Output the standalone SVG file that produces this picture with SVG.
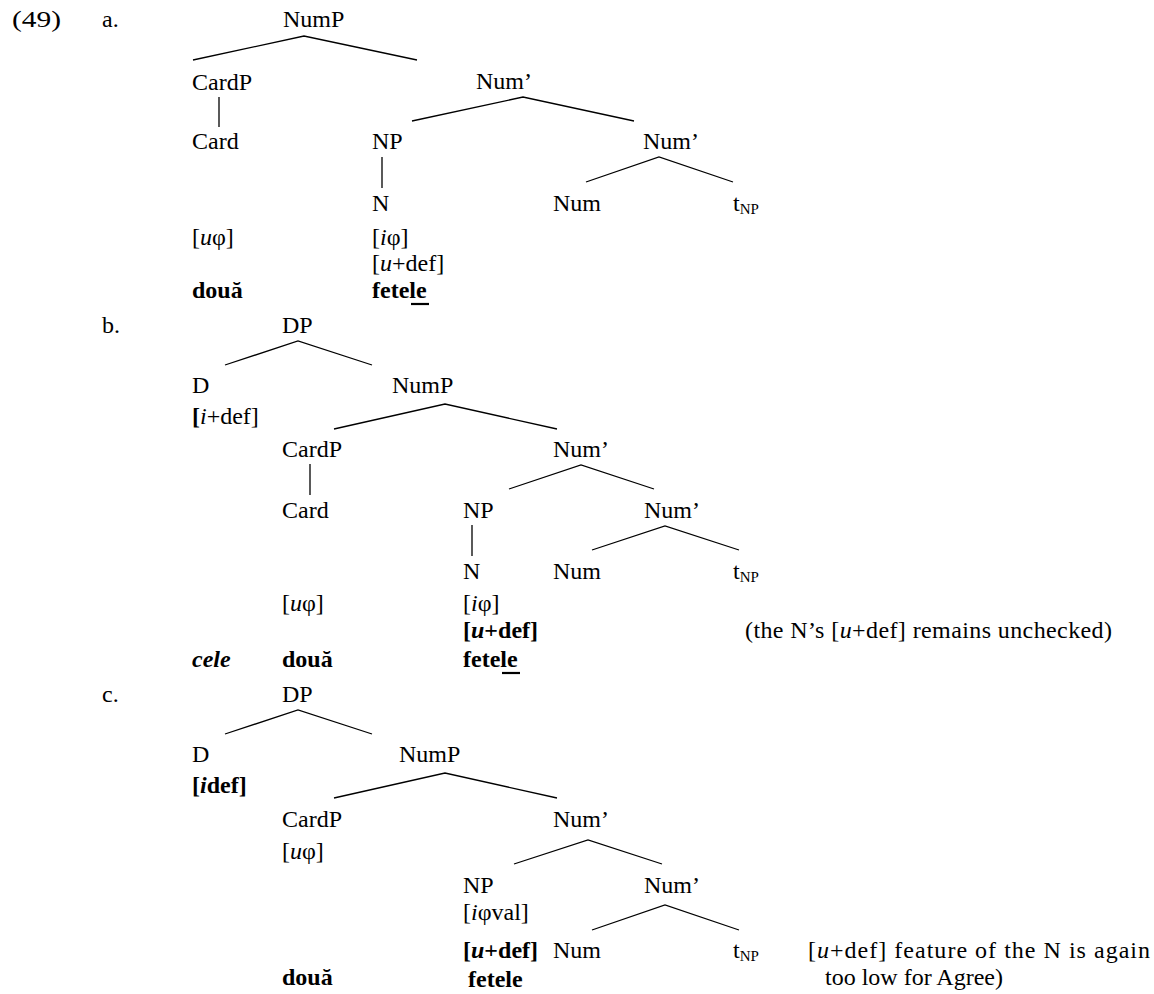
<svg xmlns="http://www.w3.org/2000/svg" width="1154" height="994" viewBox="0 0 1154 994">
<style>
text{font-family:"Liberation Serif","Times New Roman",serif;font-size:24px;fill:#000}
.b{font-weight:bold}
.i{font-style:italic}
.sub{font-size:15px}
.ln{stroke:#000;stroke-width:1.3;fill:none}
.ul{stroke:#000;stroke-width:2.2}
</style>
<rect width="1154" height="994" fill="#fff"/>
<g id="connectors">
<!-- a -->
<polyline class="ln" points="193,60 304,36 417,60"/>
<polyline class="ln" points="412,121 523,97 634,121"/>
<polyline class="ln" points="586,182 659,157 733,182"/>
<line class="ln" x1="219" y1="97" x2="219" y2="127"/>
<line class="ln" x1="382" y1="157" x2="382" y2="188"/>
<!-- b -->
<polyline class="ln" points="225,365 298,341 372,365"/>
<polyline class="ln" points="334,429 445,404 557,429"/>
<polyline class="ln" points="509,489 581,465 654,489"/>
<polyline class="ln" points="592,550 665,526 739,550"/>
<line class="ln" x1="310" y1="464" x2="310" y2="495"/>
<line class="ln" x1="472" y1="525" x2="472" y2="556"/>
<!-- c -->
<polyline class="ln" points="225,734 298,710 372,734"/>
<polyline class="ln" points="334,798 445,773 557,798"/>
<polyline class="ln" points="514,864 588,840 662,864"/>
<polyline class="ln" points="592,930 665,905 739,930"/>
</g>
<g id="labels">
<text x="12" y="27" font-size="25" textLength="49" lengthAdjust="spacingAndGlyphs">(49)</text>
<text x="102" y="27">a.</text>
<text x="102" y="333">b.</text>
<text x="102" y="702">c.</text>
</g>
<g id="tree-a">
<g id="a-NumP"><text x="283" y="27">NumP</text></g>
<g id="a-CardP"><text x="192" y="90">CardP</text></g>
<g id="a-Num1"><text x="476" y="89">Num’</text></g>
<g id="a-Card"><text x="192" y="149">Card</text><text x="192" y="245">[<tspan class="i">u</tspan>φ]</text><text class="b" x="192" y="298">două</text></g>
<g id="a-NP"><text x="372" y="149">NP</text></g>
<g id="a-Num2"><text x="643" y="149">Num’</text></g>
<g id="a-N"><text x="372" y="211">N</text><text x="372" y="245">[<tspan class="i">i</tspan>φ]</text><text x="372" y="271">[<tspan class="i">u</tspan>+def]</text><text class="b" x="372" y="298">fetele</text><line class="ul" x1="411" y1="304" x2="429" y2="304"/></g>
<g id="a-Num"><text x="553" y="211">Num</text></g>
<g id="a-t"><text x="733" y="211">t<tspan class="sub" dy="3">NP</tspan></text></g>
</g>
<g id="tree-b">
<g id="b-DP"><text x="282" y="333">DP</text></g>
<g id="b-D"><text x="192" y="393">D</text><text x="192" y="424"><tspan class="b">[</tspan><tspan class="i">i</tspan>+def]</text><text class="b i" x="192" y="667">cele</text></g>
<g id="b-NumP"><text x="392" y="393">NumP</text></g>
<g id="b-CardP"><text x="282" y="457">CardP</text></g>
<g id="b-Num1"><text x="553" y="457">Num’</text></g>
<g id="b-Card"><text x="282" y="518">Card</text><text x="282" y="611">[<tspan class="i">u</tspan>φ]</text><text class="b" x="282" y="667">două</text></g>
<g id="b-NP"><text x="463" y="518">NP</text></g>
<g id="b-Num2"><text x="644" y="518">Num’</text></g>
<g id="b-N"><text x="463" y="579">N</text><text x="463" y="611">[<tspan class="i">i</tspan>φ]</text><text class="b" x="463" y="638">[<tspan class="i">u</tspan>+def]</text><text class="b" x="463" y="667">fetele</text><line class="ul" x1="502" y1="673" x2="520" y2="673"/></g>
<g id="b-Num"><text x="553" y="579">Num</text></g>
<g id="b-t"><text x="733" y="579">t<tspan class="sub" dy="3">NP</tspan></text></g>
<g id="b-note"><text x="745" y="638" textLength="367">(the N’s [<tspan class="i">u</tspan>+def] remains unchecked)</text></g>
</g>
<g id="tree-c">
<g id="c-DP"><text x="282" y="702">DP</text></g>
<g id="c-D"><text x="192" y="762">D</text><text class="b" x="192" y="793">[<tspan class="i">i</tspan>def]</text></g>
<g id="c-NumP"><text x="399" y="762">NumP</text></g>
<g id="c-CardP"><text x="282" y="827">CardP</text><text x="282" y="859">[<tspan class="i">u</tspan>φ]</text><text class="b" x="282" y="985">două</text></g>
<g id="c-Num1"><text x="553" y="827">Num’</text></g>
<g id="c-NP"><text x="463" y="893">NP</text><text x="463" y="920">[<tspan class="i">i</tspan>φval]</text><text class="b" x="463" y="958">[<tspan class="i">u</tspan>+def]</text><text class="b" x="468" y="987">fetele</text></g>
<g id="c-Num2"><text x="644" y="893">Num’</text></g>
<g id="c-Num"><text x="553" y="958">Num</text></g>
<g id="c-t"><text x="733" y="958">t<tspan class="sub" dy="3">NP</tspan></text></g>
<g id="c-note"><text x="808" y="958" textLength="342">[<tspan class="i">u</tspan>+def] feature of the N is again</text><text x="825" y="985">too low for Agree)</text></g>
</g>
</svg>
